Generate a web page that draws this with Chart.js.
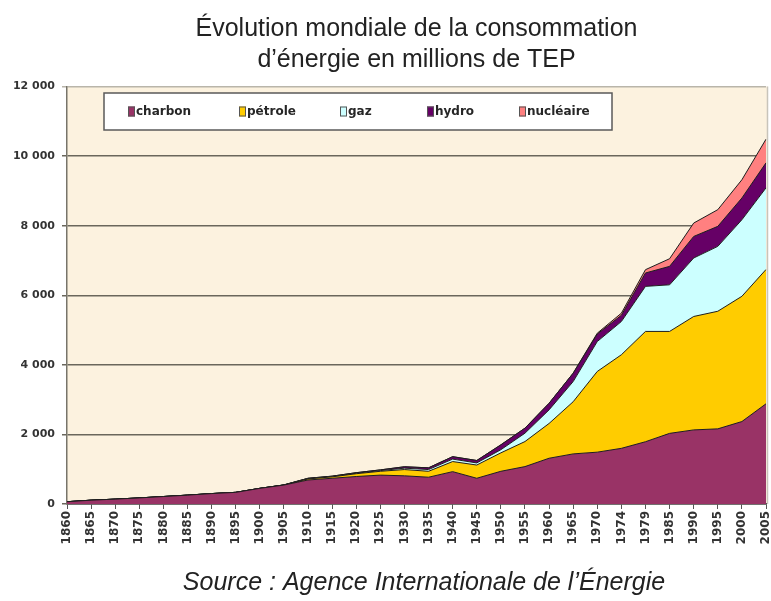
<!DOCTYPE html>
<html>
<head>
<meta charset="utf-8">
<script src="https://cdn.jsdelivr.net/npm/chart.js@4"></script>
<style>
html,body{margin:0;padding:0;background:#fff;}
#wrap{width:771px;height:601px;}
</style>
</head>
<body>
<div id="wrap"><canvas id="c" width="771" height="601"></canvas></div>
<script>
const years = ['1860','1865','1870','1875','1880','1885','1890','1895','1900','1905','1910','1915','1920','1925','1930','1935','1940','1945','1950','1955','1960','1965','1970','1974','1979','1985','1990','1995','2000','2005'];
const charbon   = [66,110,140,175,215,255,300,335,450,545,690,740,790,830,810,770,930,740,940,1075,1315,1440,1490,1600,1790,2030,2130,2160,2370,2880];
const petrole   = [0,0,0,0,0,0,0,0,0,0,30,40,80,110,180,170,290,380,530,720,1000,1500,2320,2690,3170,2930,3260,3380,3600,3860];
const gaz       = [0,0,0,0,0,0,0,0,0,0,10,10,15,20,40,50,70,60,90,240,390,580,860,955,1295,1340,1680,1865,2200,2345];
const hydro     = [0,0,0,0,0,0,0,0,0,5,10,10,15,20,40,50,70,70,140,145,190,240,215,180,385,530,620,575,625,720];
const nucleaire = [0,0,0,0,0,0,0,0,0,0,0,0,0,0,0,0,0,0,0,0,0,0,25,60,95,220,385,480,525,680];
const yTicks = [0,2000,4000,6000,8000,10000,12000];
const titleLines = ['Évolution mondiale de la consommation', 'd’énergie en millions de TEP'];
const sourceText = 'Source : Agence Internationale de l’Énergie';

const seriesNames = ['charbon','pétrole','gaz','hydro','nucléaire'];
const seriesData = [charbon, petrole, gaz, hydro, nucleaire];
const seriesColors = ['#993366','#FFCC00','#CCFFFF','#660066','#FF8080'];

const datasets = seriesData.map((d,i)=>({
  label: seriesNames[i],
  data: d,
  backgroundColor: seriesColors[i],
  borderColor: '#1e1e1e',
  borderWidth: 1,
  pointRadius: 0,
  tension: 0,
  fill: i === 0 ? 'origin' : '-1'
}));

const bgPlugin = {
  id: 'bg',
  beforeDraw(chart){
    const {ctx, chartArea:a} = chart;
    ctx.save();
    ctx.fillStyle = '#FCF2DF';
    ctx.fillRect(a.left, a.top, a.right - a.left + 2, a.bottom - a.top);
    ctx.restore();
  },
  afterDraw(chart){
    const {ctx, chartArea:a} = chart;
    ctx.save();
    ctx.strokeStyle = '#c8c4ba';
    ctx.lineWidth = 1.5;
    ctx.beginPath();
    ctx.moveTo(a.right + 1.5, a.top);
    ctx.lineTo(a.right + 1.5, a.bottom);
    ctx.stroke();
    // legend box
    const bx = 104, by = 93, bw = 508, bh = 37;
    ctx.fillStyle = '#ffffff';
    ctx.fillRect(bx, by, bw, bh);
    ctx.strokeStyle = '#5a5a5a';
    ctx.lineWidth = 1.5;
    ctx.strokeRect(bx, by, bw, bh);
    const sqX = [128, 239, 340, 427, 519];
    ctx.font = 'bold 12px "DejaVu Sans"';
    ctx.textBaseline = 'middle';
    const cy = by + bh/2;
    chart.data.datasets.forEach((ds,i)=>{
      ctx.fillStyle = ds.backgroundColor;
      ctx.fillRect(sqX[i], cy - 5, 7, 10);
      ctx.strokeStyle = '#555';
      ctx.lineWidth = 1;
      ctx.strokeRect(sqX[i] + 0.5, cy - 4.5, 6, 9);
      ctx.fillStyle = '#262626';
      ctx.fillText(ds.label, sqX[i] + 8, cy);
    });
    // source line
    ctx.font = 'italic 25px "Liberation Sans", Arial, sans-serif';
    ctx.textAlign = 'center';
    ctx.textBaseline = 'middle';
    ctx.fillStyle = '#222';
    ctx.fillText(sourceText, 424, 583);
    ctx.restore();
  }
};

new Chart(document.getElementById('c'), {
  type: 'line',
  data: { labels: years, datasets },
  plugins: [bgPlugin],
  options: {
    responsive: false,
    animation: false,
    layout: { padding: { left: 0, right: 5, top: 0, bottom: 42 } },
    plugins: {
      legend: { display: false },
      tooltip: { enabled: false },
      title: {
        display: true,
        text: titleLines,
        fullSize: false,
        color: '#222',
        font: { family: '"Liberation Sans", Arial, sans-serif', size: 25, weight: 'normal', lineHeight: 1.25 },
        padding: { top: 13, bottom: 11 }
      }
    },
    scales: {
      x: {
        stacked: true,
        offset: false,
        grid: { drawOnChartArea: false, drawTicks: true, tickLength: 5, color: '#555', lineWidth: 1 },
        border: { display: true, color: '#333', width: 1.5 },
        ticks: {
          autoSkip: false, minRotation: 90, maxRotation: 90, padding: 2,
          color: '#333',
          font: { family: '"DejaVu Sans", Verdana, sans-serif', size: 12, weight: 'bold' }
        },
        afterFit(s){ s.height = 55; s.paddingLeft = 0; s.paddingRight = 0; }
      },
      y: {
        stacked: true,
        min: 0, max: 12000,
        afterBuildTicks(s){ s.ticks = yTicks.map(v=>({value:v})); },
        grid: {
          drawTicks: true, tickLength: 5,
          color: ctx => (ctx.tick && ctx.tick.value === 12000) ? '#b9b5aa' : '#6a675c',
          lineWidth: 1.5
        },
        border: { display: true, color: '#77746a', width: 1.5 },
        ticks: {
          padding: 7,
          color: '#333',
          font: { family: '"DejaVu Sans", Verdana, sans-serif', size: 11, weight: 'bold' },
          callback: v => String(v).replace(/\B(?=(\d{3})+(?!\d))/g, ' ')
        },
        afterFit(s){ s.width = 67; }
      }
    }
  }
});
</script>
</body>
</html>
